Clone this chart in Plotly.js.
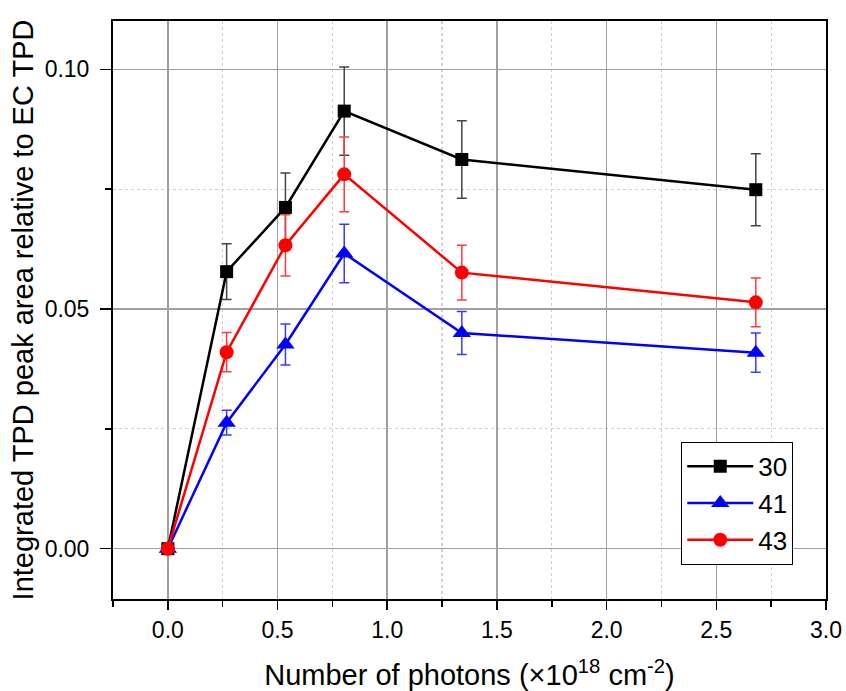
<!DOCTYPE html>
<html>
<head>
<meta charset="utf-8">
<script src="https://cdn.plot.ly/plotly-3.0.1.min.js"></script>
<style>html,body{margin:0;padding:0;background:#fff;}#chart{width:846px;height:691px;}</style>
</head>
<body>
<div id="chart"></div>
<script>
var photons = [0, 0.268, 0.536, 0.804, 1.34, 2.68];
var s30 = [0, 0.0578, 0.0712, 0.0913, 0.0812, 0.0749];
var s30err = [0, 0.0058, 0.0072, 0.0092, 0.0081, 0.0075];
var s41 = [0, 0.0263, 0.0426, 0.0616, 0.0450, 0.0409];
var s41err = [0, 0.0026, 0.0043, 0.0061, 0.0045, 0.0041];
var s43 = [0, 0.0410, 0.0633, 0.0781, 0.0576, 0.0514];
var s43err = [0, 0.0041, 0.0064, 0.0078, 0.0057, 0.0051];
var names = ['30', '41', '43'];

function trace(name, y, err, color, errColor, symbol, size) {
  return {
    x: photons, y: y, name: name, type: 'scatter', mode: 'lines+markers',
    line: {color: color, width: 2.5},
    marker: {symbol: symbol, size: size, color: color},
    error_y: {type: 'data', array: err, visible: true, color: errColor, thickness: 1.5, width: 5}
  };
}

var data = [
  trace(names[0], s30, s30err, '#000000', '#444444', 'square', 13),
  trace(names[1], s41, s41err, '#0000ff', '#3a3aff', 'triangle-up', 16),
  trace(names[2], s43, s43err, '#ff0000', '#ff3a3a', 'circle', 14)
];

var font = '"Liberation Sans", Arial, sans-serif';
var layout = {
  width: 846, height: 691,
  margin: {l: 113, r: 20, t: 21, b: 92},
  paper_bgcolor: '#fff', plot_bgcolor: '#fff',
  font: {family: font, color: '#000'},
  showlegend: true,
  legend: {
    x: 0.797, y: 0.272, xanchor: 'left', yanchor: 'top',
    bordercolor: '#000', borderwidth: 1, bgcolor: '#fff',
    font: {size: 26, family: font}, itemwidth: 66, tracegroupgap: 0
  },
  xaxis: {
    range: [-0.25, 3.0], dtick: 0.5, tick0: 0, tickformat: '.1f',
    showline: true, linecolor: '#000', linewidth: 2, mirror: true,
    ticks: 'outside', ticklen: 9, tickwidth: 1.5, tickcolor: '#000',
    showgrid: true, gridcolor: '#a0a0a0', gridwidth: 1.5, zeroline: false,
    tickfont: {size: 23, family: font},
    minor: {dtick: 0.25, tick0: 0, showgrid: true, gridcolor: '#d0d0d0', griddash: 'dot', gridwidth: 1.2, ticks: 'outside', ticklen: 6, tickwidth: 1.5, tickcolor: '#000'},
    title: {text: 'Number of photons (\u00d710<sup>18</sup> cm<sup>-2</sup>)', font: {size: 29, family: font}, standoff: 24},
    automargin: false
  },
  yaxis: {
    range: [-0.0105, 0.1101], dtick: 0.05, tick0: 0, tickformat: '.2f',
    showline: true, linecolor: '#000', linewidth: 2, mirror: true,
    ticks: 'outside', ticklen: 11, tickwidth: 1.5, tickcolor: '#000',
    showgrid: true, gridcolor: '#a0a0a0', gridwidth: 1.5, zeroline: false,
    tickfont: {size: 23, family: font}, ticklabelstandoff: 6,
    minor: {dtick: 0.025, tick0: 0, showgrid: true, gridcolor: '#d0d0d0', griddash: 'dot', gridwidth: 1.2, ticks: 'outside', ticklen: 6, tickwidth: 1.5, tickcolor: '#000'},
    title: {text: 'Integrated TPD peak area relative to EC TPD', font: {size: 29, family: font}, standoff: 2},
    automargin: false
  }
};

Plotly.newPlot('chart', data, layout, {displayModeBar: false, staticPlot: true});
</script>
</body>
</html>
